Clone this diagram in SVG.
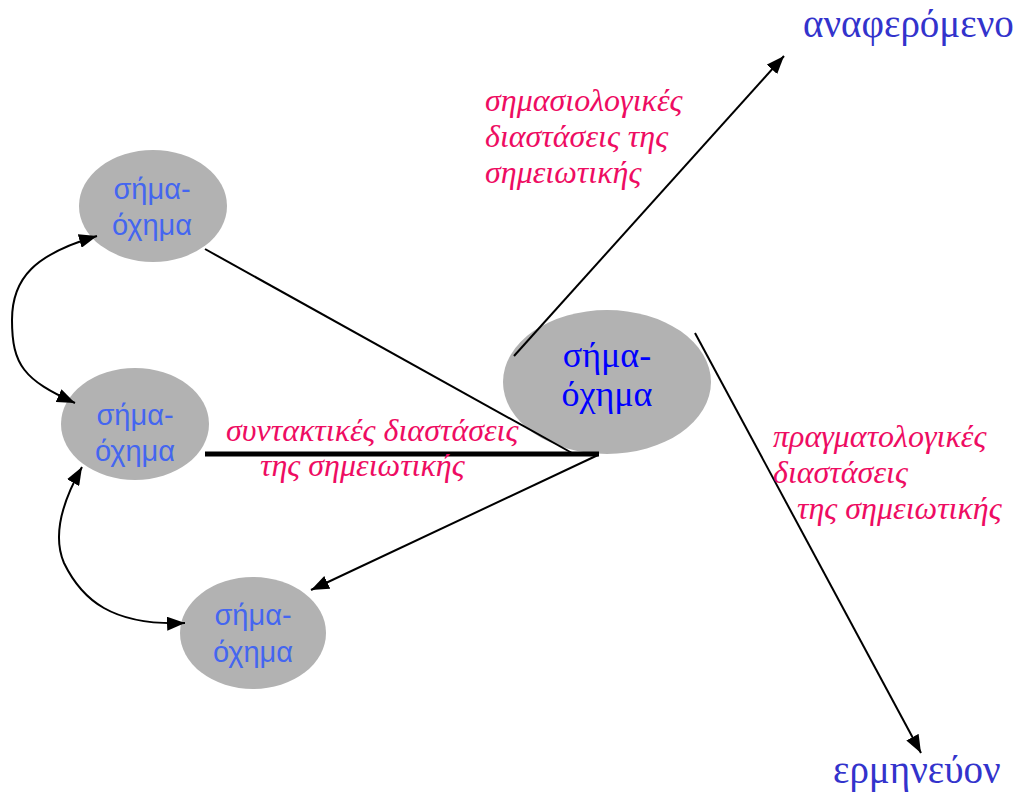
<svg xmlns="http://www.w3.org/2000/svg" width="1017" height="793" viewBox="0 0 1017 793">
<style>
.node{fill:#b2b2b2;stroke:none}
.nt{font-family:"Liberation Sans",Arial,sans-serif;font-size:29px;fill:#4466f0;text-anchor:middle}
.hub{font-family:"Liberation Serif","Times New Roman",serif;font-size:36px;fill:#0000ff;text-anchor:middle}
.lbl{font-family:"Liberation Serif","Times New Roman",serif;font-style:italic;font-size:32px;fill:#ee0c62}
.end{font-family:"Liberation Serif","Times New Roman",serif;font-size:39px;fill:#3333cc}
.ln{stroke:#000;stroke-width:2;fill:none}
</style>
<defs>
<marker id="ahb" viewBox="0 0 10 10" refX="10" refY="5" markerWidth="18" markerHeight="14" markerUnits="userSpaceOnUse" orient="auto-start-reverse" preserveAspectRatio="none">
<path d="M0,0 L10,5 L0,10 z" fill="#000"/>
</marker>
</defs>
<g id="node-top">
<ellipse class="node" cx="153" cy="206" rx="74" ry="56"/>
<text class="nt" x="152" y="199">σήμα-</text>
<text class="nt" x="152" y="235">όχημα</text>
</g>
<g id="node-mid">
<ellipse class="node" cx="135" cy="424" rx="74" ry="56"/>
<text class="nt" x="135" y="425">σήμα-</text>
<text class="nt" x="135" y="461">όχημα</text>
</g>
<g id="node-bot">
<ellipse class="node" cx="253" cy="633" rx="73" ry="56"/>
<text class="nt" x="253" y="625">σήμα-</text>
<text class="nt" x="253" y="662">όχημα</text>
</g>
<g id="node-hub">
<ellipse class="node" cx="607" cy="382" rx="104" ry="72"/>
<text class="hub" x="607" y="367">σήμα-</text>
<text class="hub" x="607" y="406">όχημα</text>
</g>
<g id="connectors">
<line class="ln" x1="205" y1="249" x2="572" y2="453"/>
<line x1="205" y1="454" x2="599" y2="454" stroke="#000" stroke-width="5"/>
<line class="ln" x1="598" y1="455" x2="311" y2="590" marker-end="url(#ahb)"/>
<line class="ln" x1="514" y1="356" x2="784" y2="56" marker-end="url(#ahb)"/>
<line class="ln" x1="695" y1="333" x2="921" y2="753" marker-end="url(#ahb)"/>
<path class="ln" d="M 97 236 C 35 254, 12 278, 12 320 C 12 365, 24 380, 75 403" marker-start="url(#ahb)" marker-end="url(#ahb)"/>
<path class="ln" d="M 82 467 C 62 502, 52 535, 64 563 C 82 600, 112 626, 185 623" marker-start="url(#ahb)" marker-end="url(#ahb)"/>
</g>
<g id="label-referent">
<text class="end" x="803" y="37">αναφερόμενο</text>
</g>
<g id="label-interpretant">
<text class="end" x="833" y="783">ερμηνεύον</text>
</g>
<g id="label-semantic">
<text class="lbl" x="485" y="111">σημασιολογικές</text>
<text class="lbl" x="485" y="147">διαστάσεις της</text>
<text class="lbl" x="485" y="183">σημειωτικής</text>
</g>
<g id="label-syntactic">
<text class="lbl" x="226" y="441">συντακτικές διαστάσεις</text>
<text class="lbl" x="260" y="476">της σημειωτικής</text>
</g>
<g id="label-pragmatic">
<text class="lbl" x="773" y="447">πραγματολογικές</text>
<text class="lbl" x="773" y="483">διαστάσεις</text>
<text class="lbl" x="797" y="519">της σημειωτικής</text>
</g>
</svg>
